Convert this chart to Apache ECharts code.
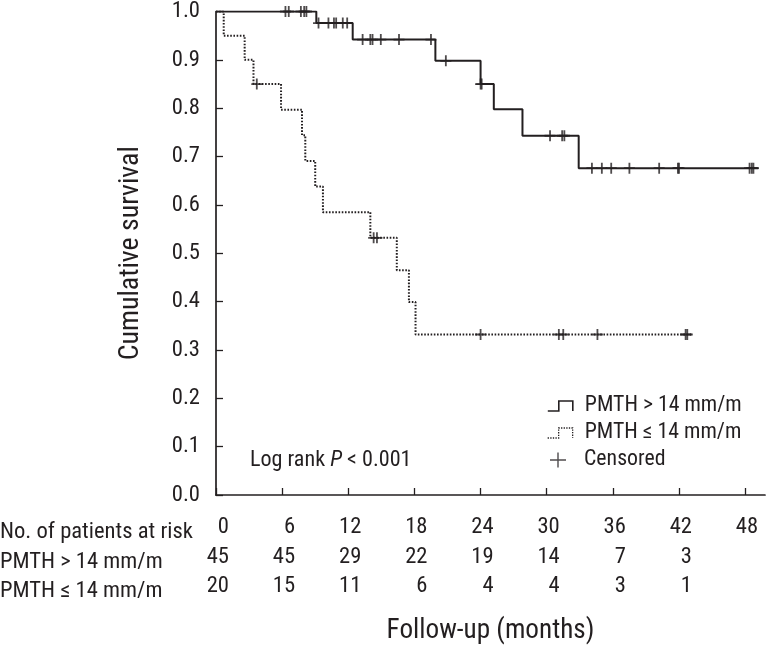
<!DOCTYPE html>
<html>
<head>
<meta charset="utf-8">
<script src="https://cdn.jsdelivr.net/npm/echarts@6/dist/echarts.min.js"></script>
<style>
html,body{margin:0;padding:0;background:#fff;}
#chart{width:768px;height:650px;}
</style>
</head>
<body>
<div id="chart"></div>
<script>
// ---- data ----
var xTicks = [0, 6, 12, 18, 24, 30, 36, 42, 48];
var yTicks = [0, 0.1, 0.2, 0.3, 0.4, 0.5, 0.6, 0.7, 0.8, 0.9, 1.0];

// PMTH > 14 mm/m : event times (months) and survival after each step
var highTimes = [0, 9.1, 12.4, 19.9, 24.0, 25.2, 27.8, 32.9, 49.2];
var highSurv  = [1.0, 0.976, 0.942, 0.898, 0.850, 0.798, 0.743, 0.676, 0.676];

// PMTH <= 14 mm/m
var lowTimes = [0, 0.7, 2.6, 3.4, 5.9, 7.8, 8.1, 9.0, 9.7, 14.0, 16.4, 17.5, 18.1, 43.2];
var lowSurv  = [1.0, 0.95, 0.90, 0.85, 0.797, 0.744, 0.691, 0.638, 0.585, 0.532, 0.465, 0.399, 0.332, 0.332];

// censored observations
var highCensTimes = [6.3, 6.6, 7.7, 8.0, 8.2, 9.3, 10.2, 10.7, 10.9, 11.5, 11.9, 13.3, 14.0, 14.2, 14.95, 16.6, 19.5, 20.85, 24.0, 24.1, 30.3, 31.4, 31.6, 34.1, 35.0, 35.85, 37.5, 40.2, 41.9, 42.0, 48.4, 48.6, 48.75];
var highCensSurv  = [1.0, 1.0, 1.0, 1.0, 1.0, 0.976, 0.976, 0.976, 0.976, 0.976, 0.976, 0.942, 0.942, 0.942, 0.942, 0.942, 0.942, 0.898, 0.850, 0.850, 0.743, 0.743, 0.743, 0.676, 0.676, 0.676, 0.676, 0.676, 0.676, 0.676, 0.676, 0.676, 0.676];
var lowCensTimes = [3.7, 14.3, 14.6, 24.0, 31.1, 31.5, 34.6, 42.6, 42.75];
var lowCensSurv  = [0.85, 0.532, 0.532, 0.332, 0.332, 0.332, 0.332, 0.332, 0.332];

// numbers at risk at each x tick
var riskHigh = [45, 45, 29, 22, 19, 14, 7, 3];
var riskLow  = [20, 15, 11, 6, 4, 4, 3, 1];

var seriesNames = ['PMTH > 14 mm/m', 'PMTH \u2264 14 mm/m', 'Censored'];
var rowLabels = ['No. of patients at risk', 'PMTH > 14 mm/m', 'PMTH \u2264 14 mm/m'];
var yTitle = 'Cumulative survival';
var xTitle = 'Follow-up (months)';

// ---- font selection (narrow face if installed) and size fitting ----
var ctx = document.createElement('canvas').getContext('2d');
function available(f) {
  var s = 'mmmmmmmmmmlliWW0.123', ok = false;
  ['monospace', 'serif', 'sans-serif'].forEach(function (b) {
    ctx.font = '72px ' + b; var w0 = ctx.measureText(s).width;
    ctx.font = "72px '" + f + "', " + b; var w1 = ctx.measureText(s).width;
    if (Math.abs(w1 - w0) > 0.5) ok = true;
  });
  return ok;
}
var candidates = ['Liberation Sans Narrow', 'Arial Narrow', 'Roboto Condensed', 'Open Sans Condensed', 'DejaVu Sans Condensed', 'Liberation Sans'];
var face = 'sans-serif';
for (var i = 0; i < candidates.length; i++) { if (available(candidates[i])) { face = candidates[i]; break; } }
var FONT = "'" + face + "', sans-serif";
function fit(text, target) { ctx.font = '100px ' + FONT; return Math.round(1000 * target / ctx.measureText(text).width) / 10; }
var FS_TICK = fit(rowLabels[0], 193);
var FS_LEG = fit(seriesNames[0], 157);
var FS_LOG = fit('Log rank P < 0.001', 162);
var FS_XT = fit(xTitle, 208);
var FS_YT = fit(yTitle, 214);

// ---- chart ----
var INK = '#231f20';
var CROSS = 'path://M4.6,0 L6.4,0 L6.4,4.6 L11,4.6 L11,6.4 L6.4,6.4 L6.4,11 L4.6,11 L4.6,6.4 L0,6.4 L0,4.6 L4.6,4.6 Z';
var CROSS_LEG = 'path://M7.3,0 L8.7,0 L8.7,6.8 L16,6.8 L16,8.2 L8.7,8.2 L8.7,15 L7.3,15 L7.3,8.2 L0,8.2 L0,6.8 L7.3,6.8 Z';
var STEP = 'path://M0,10 L11,10 L11,0 L25,0 L25,10';

function pairs(xs, ys) { return xs.map(function (x, i) { return [x, ys[i]]; }); }

var chart = echarts.init(document.getElementById('chart'), null, {renderer: 'canvas'});

var X_MAX = 49.8;
function tickLabel(vals, fmt) {
  return {
    customValues: vals, margin: 32, verticalAlign: 'middle', color: INK, fontFamily: FONT, fontSize: FS_TICK,
    formatter: function (v) { return '{a|' + fmt(v) + '}'; },
    rich: {a: {width: 26, align: 'right', verticalAlign: 'middle', fontFamily: FONT, fontSize: FS_TICK, color: INK}}
  };
}
function riskAxis(arr, offset) {
  return {
    type: 'value', gridIndex: 0, min: 0, max: X_MAX, position: 'bottom', offset: offset,
    axisLine: {show: false}, axisTick: {show: false}, splitLine: {show: false},
    axisLabel: tickLabel(xTicks.slice(0, arr.length), function (v) { return arr[Math.round(v / 6)]; })
  };
}
function legendBlock(name, icon, style, left, top, w, h, pad) {
  return {
    orient: 'vertical', left: left, top: top, padding: 0, itemWidth: w, itemHeight: h,
    selectedMode: false,
    textStyle: {fontFamily: FONT, fontSize: FS_LEG, color: INK, lineHeight: 20, padding: [0, 0, 0, pad]},
    data: [{name: name, icon: icon, itemStyle: style}]
  };
}

var option = {
  animation: false,
  backgroundColor: '#fff',
  textStyle: {fontFamily: FONT},
  grid: {left: 216, top: 10, width: 549, height: 490, containLabel: false},
  xAxis: [
    {
      type: 'value', min: 0, max: X_MAX, position: 'bottom',
      name: xTitle, nameLocation: 'middle', nameGap: Math.round(133 - 0.35 * FS_XT),
      nameTextStyle: {fontFamily: FONT, fontSize: FS_XT, color: INK},
      axisLine: {show: true, lineStyle: {color: INK, width: 1.7}},
      axisTick: {show: true, inside: true, length: 7, customValues: xTicks, lineStyle: {color: INK, width: 1.3}},
      splitLine: {show: false},
      axisLabel: tickLabel(xTicks, function (v) { return v; })
    },
    riskAxis(riskHigh, 30),
    riskAxis(riskLow, 59)
  ],
  yAxis: {
    type: 'value', min: 0, max: 1, interval: 0.1,
    name: yTitle, nameLocation: 'middle', nameGap: Math.round(86 - 0.52 * FS_YT),
    nameTextStyle: {fontFamily: FONT, fontSize: FS_YT, color: INK},
    axisLine: {show: true, lineStyle: {color: INK, width: 1.7}},
    axisTick: {show: true, inside: true, length: 7, lineStyle: {color: INK, width: 1.3}},
    splitLine: {show: false},
    axisLabel: {
      margin: 16, color: INK, fontFamily: FONT, fontSize: FS_TICK,
      formatter: function (v) { return v.toFixed(1); }
    }
  },
  legend: [
    legendBlock(seriesNames[0], STEP, {color: 'rgba(0,0,0,0)', borderColor: INK, borderWidth: 1.6}, 547, 395, 25, 10, 7),
    legendBlock(seriesNames[1], STEP, {color: 'rgba(0,0,0,0)', borderColor: INK, borderWidth: 1.3, borderType: 'dotted'}, 547, 422, 25, 10, 7),
    legendBlock(seriesNames[2], CROSS_LEG, {color: INK, borderWidth: 0}, 550, 449, 16, 15, 13)
  ],
  graphic: [
    {type: 'text', x: 0, y: 532, style: {text: rowLabels[0], font: FS_TICK + 'px ' + FONT, fill: INK, verticalAlign: 'middle'}},
    {type: 'text', x: 0, y: 562, style: {text: rowLabels[1], font: FS_TICK + 'px ' + FONT, fill: INK, verticalAlign: 'middle'}},
    {type: 'text', x: 0, y: 591, style: {text: rowLabels[2], font: FS_TICK + 'px ' + FONT, fill: INK, verticalAlign: 'middle'}},
    {type: 'text', x: 250, y: 460, style: {
      text: '{n|Log rank }{i|P}{n| < 0.001}', verticalAlign: 'middle',
      rich: {
        n: {fontFamily: FONT, fontSize: FS_LOG, fill: INK},
        i: {fontFamily: FONT, fontSize: FS_LOG, fontStyle: 'italic', fill: INK}
      }
    }}
  ],
  series: [
    {
      name: seriesNames[0], type: 'line', step: 'end', data: pairs(highTimes, highSurv),
      symbol: 'none', lineStyle: {color: INK, width: 2}, itemStyle: {color: INK}, z: 3
    },
    {
      name: seriesNames[1], type: 'line', step: 'end', data: pairs(lowTimes, lowSurv),
      symbol: 'none', lineStyle: {color: INK, width: 2, type: [1.6, 1.6]}, itemStyle: {color: INK}, z: 2
    },
    {
      name: seriesNames[2], type: 'scatter', data: pairs(highCensTimes, highCensSurv),
      symbol: CROSS, symbolSize: 11, itemStyle: {color: INK}, z: 4
    },
    {
      name: seriesNames[2], type: 'scatter', data: pairs(lowCensTimes, lowCensSurv),
      symbol: CROSS, symbolSize: 11, itemStyle: {color: INK}, z: 4
    }
  ]
};
chart.setOption(option);
</script>
</body>
</html>
